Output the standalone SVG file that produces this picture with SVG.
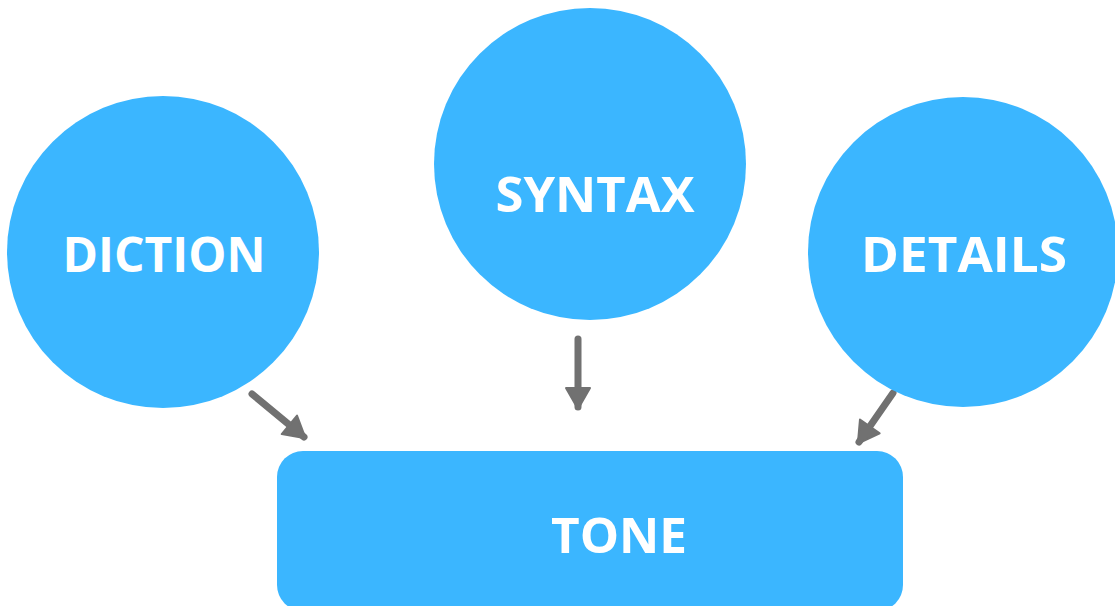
<svg xmlns="http://www.w3.org/2000/svg" width="1115" height="606" viewBox="0 0 1115 606">
<style>
.node{fill:#3bb6ff}
.lbl{fill:#ffffff;font-family:"Open Sans","Liberation Sans",sans-serif;font-weight:700;font-size:48px;text-anchor:middle}
.conn{stroke:#717171;stroke-width:7;stroke-linecap:round;fill:none}
</style>
<defs>
<marker id="ah" markerUnits="userSpaceOnUse" markerWidth="28" markerHeight="28" viewBox="0 0 28 28" refX="21" refY="14" orient="auto">
<path d="M2,2 L23,14 L2,26 Z" fill="#717171" stroke="#717171" stroke-width="2" stroke-linejoin="round"/>
</marker>
</defs>
<rect width="1115" height="606" fill="#ffffff"/>
<g id="connectors">
<line class="conn" x1="252" y1="394" x2="304" y2="437" marker-end="url(#ah)"/>
<line class="conn" x1="578" y1="339" x2="578" y2="407" marker-end="url(#ah)"/>
<line class="conn" x1="893" y1="393" x2="859" y2="442" marker-end="url(#ah)"/>
</g>
<g id="diction">
<circle class="node" cx="163" cy="252" r="156"/>
<text class="lbl" x="164" y="272" textLength="203" lengthAdjust="spacingAndGlyphs">DICTION</text>
</g>
<g id="syntax">
<circle class="node" cx="590" cy="164" r="156"/>
<text class="lbl" x="595" y="212" textLength="199" lengthAdjust="spacingAndGlyphs">SYNTAX</text>
</g>
<g id="details">
<circle class="node" cx="963" cy="252" r="155"/>
<text class="lbl" x="964" y="272" textLength="206" lengthAdjust="spacingAndGlyphs">DETAILS</text>
</g>
<g id="tone">
<rect class="node" x="277" y="451" width="626" height="160" rx="26"/>
<text class="lbl" x="619" y="553" textLength="136" lengthAdjust="spacingAndGlyphs">TONE</text>
</g>
</svg>
